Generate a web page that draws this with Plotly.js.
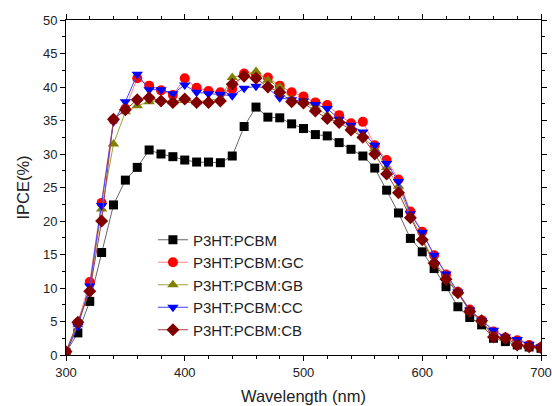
<!DOCTYPE html>
<html>
<head>
<meta charset="utf-8">
<script src="https://cdn.plot.ly/plotly-3.0.1.min.js"></script>
<style>html,body{margin:0;padding:0;background:#fff}#chart{width:552px;height:406px}</style>
</head>
<body>
<div id="chart"></div>
<script>
const wavelength = [300,310,320,330,340,350,360,370,380,390,400,410,420,430,440,450,460,470,480,490,500,510,520,530,540,550,560,570,580,590,600,610,620,630,640,650,660,670,680,690,700];
const seriesNames = ["P3HT:PCBM","P3HT:PCBM:GC","P3HT:PCBM:GB","P3HT:PCBM:CC","P3HT:PCBM:CB"];
const ipcePCBM = [0.4,3.3,8.0,15.3,22.4,26.1,28.0,30.6,30.0,29.6,29.1,28.8,28.8,28.7,29.7,34.1,37.0,35.5,35.4,34.5,33.8,32.9,32.7,31.7,30.7,29.7,27.9,24.6,21.2,17.4,15.4,12.9,10.2,7.2,5.6,4.5,2.5,2.0,1.5,1.2,1.0];
const ipceGC = [0.5,4.8,10.9,22.7,35.1,36.8,41.3,40.2,39.5,38.8,41.3,39.9,39.4,39.2,39.7,42.0,41.8,41.4,40.2,39.2,38.6,37.7,37.3,35.8,34.6,34.8,31.3,29.1,26.2,21.4,18.4,14.9,12.0,9.45,6.8,5.2,3.5,2.6,2.2,1.5,1.15];
const ipceGB = [0.3,4.5,9.8,21.8,31.5,36.3,37.2,37.8,38.0,37.8,38.0,37.8,38.0,38.3,41.4,41.8,42.3,41.0,40.0,38.2,37.7,37.0,35.8,35.0,34.0,32.6,30.8,28.0,25.2,20.8,17.5,14.0,11.6,9.3,6.6,5.1,2.9,2.5,1.7,1.3,1.1];
const ipceCC = [0.3,4.3,10.3,22.3,34.8,37.8,41.9,39.6,39.6,39.0,40.3,39.2,39.0,38.9,38.7,39.8,40.1,39.8,38.4,38.1,37.9,37.4,36.8,35.2,34.3,33.3,31.3,28.6,25.9,21.1,18.3,14.9,12.1,9.4,6.7,5.2,3.7,2.7,2.3,1.6,1.2];
const ipceCB = [0.5,4.9,9.5,20.0,35.2,36.6,38.1,38.4,37.9,37.7,38.2,37.7,37.7,37.9,40.4,41.6,41.3,40.0,39.2,37.8,37.6,36.4,35.3,34.7,33.6,32.5,30.0,27.0,24.2,20.5,17.2,13.7,11.3,9.3,6.5,5.1,2.7,2.5,1.5,1.25,1.1];
const xTickVals = [300,400,500,600,700];
const yTickVals = [0,5,10,15,20,25,30,35,40,45,50];

const styles = [
  {line:'#666666', marker:'#000000', symbol:'square', size:9},
  {line:'#ff8080', marker:'#ff0000', symbol:'circle', size:10},
  {line:'#a0a040', marker:'#808000', symbol:'triangle-up', size:10},
  {line:'#4040ff', marker:'#0000ff', symbol:'triangle-down', size:10},
  {line:'#a04040', marker:'#800000', symbol:'diamond', size:10}
];
const ys = [ipcePCBM, ipceGC, ipceGB, ipceCC, ipceCB];
const traces = ys.map((y,i)=>({
  x: wavelength, y: y, name: seriesNames[i], type:'scatter', mode:'lines+markers',
  line:{color:styles[i].line, width:1},
  marker:{color:styles[i].marker, symbol:styles[i].symbol, size:styles[i].size, line:{width:0}}
}));

const axisCommon = {
  showgrid:false, zeroline:false, showline:true, linecolor:'#000', linewidth:1,
  mirror:'allticks', ticks:'outside', ticklen:5, tickcolor:'#000', tickwidth:1,
  tickfont:{family:'Liberation Sans, Arial, sans-serif', size:13, color:'#222'}
};
const layout = {
  width:552, height:406,
  margin:{l:66, r:11, t:20, b:51},
  paper_bgcolor:'#fff', plot_bgcolor:'#fff',
  font:{family:'Liberation Sans, Arial, sans-serif', color:'#222'},
  showlegend:true,
  legend:{x:0.183, y:0.3925, xanchor:'left', yanchor:'top', bgcolor:'rgba(0,0,0,0)', font:{size:15, color:'#222'}, tracegroupgap:0, itemwidth:30},
  xaxis: Object.assign({}, axisCommon, {
    range:[300,700], tickvals:xTickVals, ticktext:xTickVals.map(String),
    minor:{dtick:20, ticklen:3, tickcolor:'#000', ticks:'outside'},
    title:{text:'Wavelength (nm)', font:{size:16.5, color:'#222'}, standoff:11}
  }),
  yaxis: Object.assign({}, axisCommon, {
    range:[0,50], tickvals:yTickVals, ticktext:yTickVals.map(String),
    minor:{dtick:2.5, ticklen:3, tickcolor:'#000', ticks:'outside'},
    title:{text:'IPCE(%)', font:{size:16.5, color:'#222'}, standoff:9}
  })
};
Plotly.newPlot('chart', traces, layout, {displayModeBar:false, staticPlot:true});
</script>
</body>
</html>
